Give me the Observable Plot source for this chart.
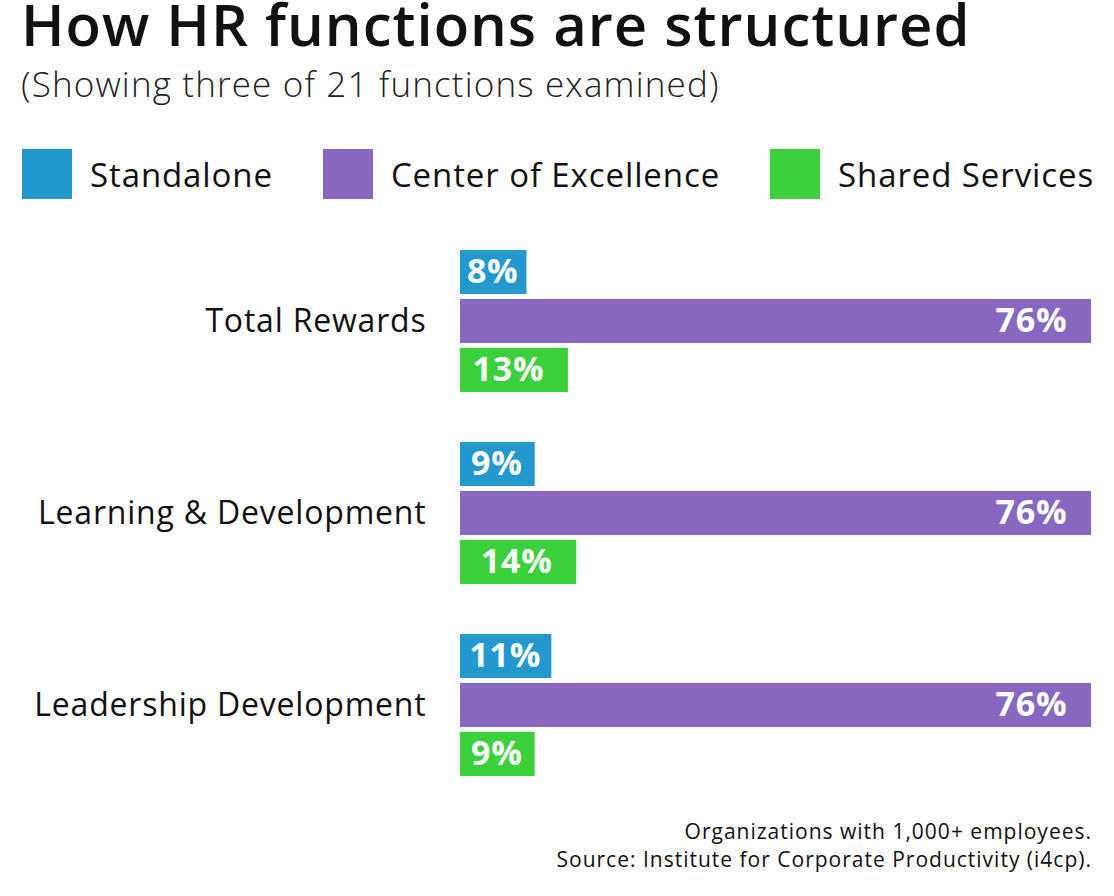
<!DOCTYPE html>
<html>
<head>
<meta charset="utf-8">
<script src="https://cdn.jsdelivr.net/npm/d3@7"></script>
<script src="https://cdn.jsdelivr.net/npm/@observablehq/plot@0.6"></script>
<style>
  html, body { margin: 0; padding: 0; background: #fff; }
  #page { position: relative; width: 1114px; height: 896px; font-family: "Open Sans", sans-serif; color: #111; overflow: hidden; }
  #title { position: absolute; left: 21px; top: 1px; font-size: 58px; font-weight: 600; line-height: 0.8; letter-spacing: 1px; white-space: nowrap; }
  #subtitle { position: absolute; left: 21px; top: 66px; font-size: 35px; font-weight: 300; line-height: 1; letter-spacing: 1.15px; white-space: nowrap; color: #222; }
  #legend { position: absolute; left: 22px; top: 149px; display: flex; align-items: center; gap: 50px; }
  .item { display: flex; align-items: center; }
  .swatch { width: 50px; height: 50px; margin-right: 18px; }
  .item span { font-size: 33px; font-weight: 500; letter-spacing: 0.9px; white-space: nowrap; }
  #chart { position: absolute; left: 0; top: 230px; }
  #caption { position: absolute; right: 22px; top: 817px; text-align: right; font-size: 21px; line-height: 28px; letter-spacing: 1px; white-space: nowrap; }
</style>
</head>
<body>
<div id="page">
  <div id="title">How HR functions are structured</div>
  <div id="subtitle">(Showing three of 21 functions examined)</div>
  <div id="legend"></div>
  <div id="chart"></div>
  <div id="caption">Organizations with 1,000+ employees.<br>Source: Institute for Corporate Productivity (i4cp).</div>
</div>
<script>
// HR functions and how each one is organised (% of organisations)
const categories = ["Total Rewards", "Learning & Development", "Leadership Development"];
const series = ["Standalone", "Center of Excellence", "Shared Services"];
const standalone = [8, 9, 11];
const centerOfExcellence = [76, 76, 76];
const sharedServices = [13, 14, 9];
const colors = ["#2298cf", "#8867c1", "#3dd03d"];

const values = [standalone, centerOfExcellence, sharedServices];
const data = categories.flatMap((category, i) =>
  series.map((s, j) => ({category, series: s, value: values[j][i]}))
);

// Legend above the chart
const legend = document.getElementById("legend");
series.forEach((s, j) => {
  const item = document.createElement("div");
  item.className = "item";
  item.innerHTML = `<div class="swatch" style="background:${colors[j]}"></div><span>${s}</span>`;
  legend.appendChild(item);
});

// Long bars carry their label near the end; short bars centre it
const wide = data.filter(d => d.value >= 12);
const narrow = data.filter(d => d.value < 12);

const chart = Plot.plot({
  width: 1114,
  height: 570,
  marginLeft: 460,
  marginRight: 23,
  marginTop: 20,
  marginBottom: 23,
  style: {fontFamily: "Open Sans, sans-serif", background: "transparent", letterSpacing: "0.8px"},
  x: {domain: [0, 76], axis: null},
  y: {domain: series, paddingInner: 0.11, paddingOuter: 0, axis: null},
  fy: {domain: categories, paddingInner: 0.26, paddingOuter: 0, label: null},
  color: {domain: series, range: colors},
  marks: [
    Plot.barX(data, {x: "value", y: "series", fy: "category", fill: "series"}),
    Plot.text(wide, {
      x: "value", y: "series", fy: "category", text: d => `${d.value}%`,
      textAnchor: "end", dx: -24, fill: "white", fontSize: 34, fontWeight: 700
    }),
    Plot.text(narrow, {
      x: d => d.value / 2, y: "series", fy: "category", text: d => `${d.value}%`,
      textAnchor: "middle", dx: -1, fill: "white", fontSize: 34, fontWeight: 700
    }),
    Plot.axisFy({
      anchor: "left", tickSize: 0, tickPadding: 34, label: null,
      fontSize: 32, fontWeight: 500, fill: "#111"
    })
  ]
});
document.getElementById("chart").appendChild(chart);
</script>
</body>
</html>
